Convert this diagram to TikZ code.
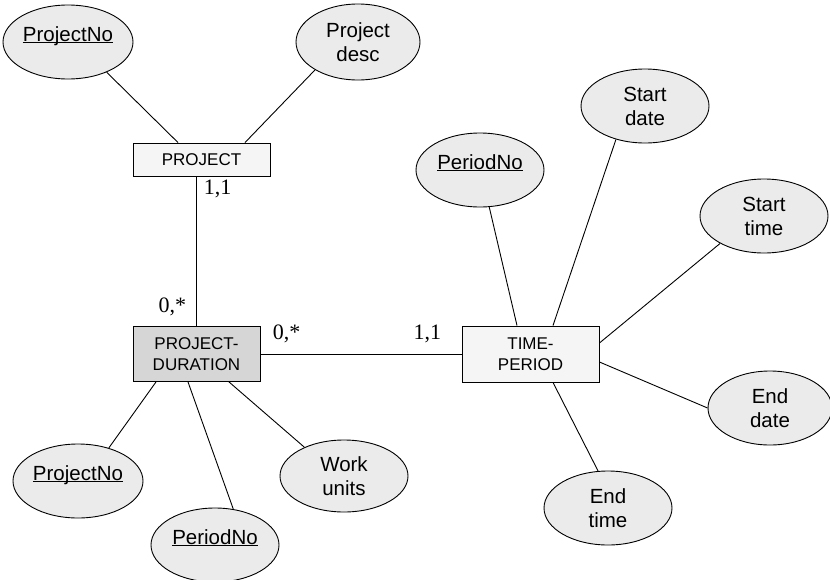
\documentclass[tikz,border=0pt]{standalone}
\usepackage{fontspec}
\setmainfont{Liberation Sans}
\newfontfamily\cardserif{Liberation Serif}
\usetikzlibrary{shapes.geometric}

\definecolor{attrfill}{gray}{0.92}
\definecolor{entfill}{gray}{0.96}
\definecolor{linkfill}{gray}{0.84}

\newcommand{\entfont}{\fontsize{17}{21}\selectfont}
\newcommand{\attfont}{\fontsize{20.5}{24}\selectfont}
\newcommand{\cardfont}{\cardserif\fontsize{22}{24}\selectfont}
\newcommand{\key}[1]{\underline{\smash{#1}}}

\begin{document}
\begin{tikzpicture}[
    x=1pt, y=-1pt,
    line width=0.9pt,
    entity/.style = {rectangle, draw, fill=entfill, align=center, inner sep=0pt, minimum width=137pt, minimum height=33pt, font=\entfont},
    attribute/.style = {ellipse, draw, fill=attrfill, align=center, inner sep=0pt, minimum width=128pt, minimum height=74pt, font=\attfont},
    card/.style = {inner sep=0pt, font=\cardfont}]

\useasboundingbox (0,0) rectangle (830,579);

  \node[entity] (project) at (201.5,159.5) {PROJECT};
  \node[entity, fill=linkfill, minimum width=127pt, minimum height=55pt] (duration) at (196.5,354) {PROJECT-\\DURATION};
  \node[entity, minimum height=56pt] (period) at (530.5,354) {TIME-\\PERIOD};

  \node[attribute, minimum width=130pt] (projno) at (68,42) {\key{ProjectNo}};
  \node[attribute, minimum width=124pt, minimum height=76pt] (projdesc) at (358,42) {Project\\desc};

  \node[attribute] (perno) at (480,170) {\key{PeriodNo}};
  \node[attribute] (startdate) at (645,106) {Start\\date};
  \node[attribute] (starttime) at (764,216) {Start\\time};
  \node[attribute, minimum width=124pt] (enddate) at (770,408) {End\\date};
  \node[attribute] (endtime) at (608,508) {End\\time};

  \node[attribute, minimum width=130pt] (durprojno) at (78,481) {\key{ProjectNo}};
  \node[attribute] (durperno) at (215,545) {\key{PeriodNo}};
  \node[attribute, minimum height=72pt] (workunits) at (344,476) {Work\\units};

  %connectors
  \draw (projno.322) -- ([xshift=-23.5pt]project.north);
  \draw (projdesc.213) -- ([xshift=43.5pt]project.north);
  \draw (duration.north) -- (duration.north |- project.south)
    node[card, anchor=base west, xshift=7pt, yshift=-18pt] {1,1};
  \node[card, anchor=base east, xshift=-10pt, yshift=14pt] at (duration.north) {0,*};
  \draw (duration.east) -- (period.west)
    node[card, anchor=base west, at start, xshift=12pt, yshift=15pt] {0,*}
    node[card, anchor=base east, at end, xshift=-20pt, yshift=15pt] {1,1};

  \draw (durprojno.47) -- ([xshift=-40.5pt]duration.south);
  \draw (durperno.63) -- ([xshift=-8.5pt]duration.south);
  \draw (workunits.144) -- ([xshift=32.5pt]duration.south);

  \draw (perno.284) -- ([xshift=-13.5pt]period.north);
  \draw (startdate.229) -- ([xshift=22.5pt]period.north);
  \draw (starttime.212) -- ([yshift=11pt]period.east);
  \draw (enddate.180) -- ([yshift=-8pt]period.east);
  \draw (endtime.105) -- ([xshift=22.5pt]period.south);
\end{tikzpicture}
\end{document}
